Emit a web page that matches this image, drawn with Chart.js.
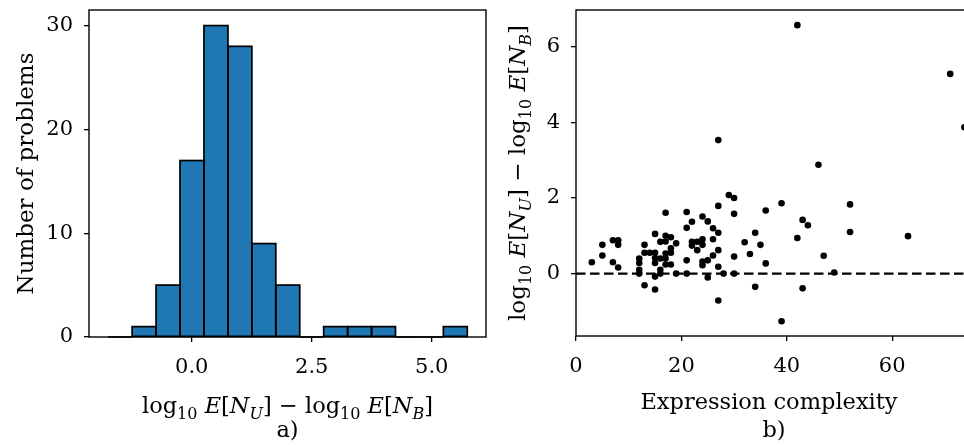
<!DOCTYPE html>
<html>
<head>
<meta charset="utf-8">
<script src="https://cdn.jsdelivr.net/npm/chart.js@4.4.1/dist/chart.umd.min.js"></script>
<style>
  html, body { margin: 0; padding: 0; background: #fff; overflow: hidden; }
  #wrap { position: relative; width: 964px; height: 445px; overflow: hidden; }
  #hist { position: absolute; left: 0; top: 0; }
  #scat { position: absolute; left: 490px; top: 0; }
</style>
</head>
<body>
<div id="wrap">
  <canvas id="hist" width="490" height="445"></canvas>
  <canvas id="scat" width="480" height="445"></canvas>
</div>
<script>
// ---- panel a) histogram of the log-ratio ----
const binEdges = [-1.740, -1.241, -0.743, -0.244, 0.255, 0.754, 1.252, 1.751, 2.250,
                  2.748, 3.247, 3.746, 4.244, 4.743, 5.242, 5.740];
const binCounts = [0, 1, 5, 17, 30, 28, 9, 5, 0, 1, 1, 1, 0, 0, 1];
const histXTicks = [0, 2.5, 5.0];
const histYTicks = [0, 10, 20, 30];

// ---- panel b) log-ratio against expression complexity ----
const complexity = [42, 71, 73.7, 27, 46, 29, 30, 39, 52, 27, 36, 17, 21, 30, 24, 43, 22, 25, 44,
  21, 26, 52, 34, 27, 15, 17, 63, 18, 42, 26, 7, 8, 24, 16, 17, 22, 23, 32, 19, 5, 8, 13, 22,
  24, 35, 18, 23, 27, 13, 14, 15, 17, 18, 33, 5, 26, 47, 30, 12, 15, 16, 17, 21, 25, 3, 7, 12,
  15, 24, 36, 17, 18, 24, 8, 27, 12, 16, 49, 12, 16, 19, 21, 28, 30, 15, 25, 13, 34, 43, 15,
  27, 39];
const logRatio = [6.57, 5.28, 3.87, 3.53, 2.88, 2.08, 2.00, 1.86, 1.83, 1.79, 1.67, 1.61, 1.63,
  1.58, 1.51, 1.42, 1.37, 1.38, 1.28, 1.21, 1.20, 1.10, 1.08, 1.08, 1.05, 1.00, 0.99, 0.96,
  0.94, 0.91, 0.88, 0.88, 0.91, 0.84, 0.85, 0.84, 0.84, 0.83, 0.80, 0.76, 0.76, 0.76, 0.74,
  0.76, 0.76, 0.67, 0.62, 0.62, 0.55, 0.55, 0.55, 0.53, 0.55, 0.52, 0.48, 0.48, 0.47, 0.45,
  0.40, 0.41, 0.40, 0.40, 0.35, 0.35, 0.30, 0.30, 0.28, 0.28, 0.32, 0.27, 0.24, 0.24, 0.22,
  0.16, 0.18, 0.10, 0.10, 0.03, 0.00, 0.00, 0.00, 0.00, 0.00, 0.00, -0.08, -0.10, -0.31,
  -0.35, -0.39, -0.42, -0.71, -1.26];
const scatXTicks = [0, 20, 40, 60];
const scatYTicks = [0, 2, 4, 6];

const FONT = 'DejaVu Serif';
const TICK_FONT = { family: FONT, size: 21 };

// axis label built from plain, italic and subscript pieces
const ratioLabel = [
  { t: 'log' }, { t: '10', sub: true }, { t: ' ' }, { t: 'E', it: true }, { t: '[' },
  { t: 'N', it: true }, { t: 'U', it: true, sub: true }, { t: ']' }, { t: ' − ' },
  { t: 'log' }, { t: '10', sub: true }, { t: ' ' }, { t: 'E', it: true }, { t: '[' },
  { t: 'N', it: true }, { t: 'B', it: true, sub: true }, { t: ']' }
];

function segFont(seg, size) {
  const s = seg.sub ? Math.round(size * 0.7) : size;
  return (seg.it ? 'italic ' : '') + s + 'px "' + FONT + '"';
}

function drawRich(ctx, segs, x, y, size, rotate) {
  ctx.save();
  ctx.translate(x, y);
  if (rotate) ctx.rotate(-Math.PI / 2);
  ctx.fillStyle = '#000';
  ctx.textBaseline = 'alphabetic';
  ctx.textAlign = 'left';
  let w = 0;
  segs.forEach(s => { ctx.font = segFont(s, size); w += ctx.measureText(s.t).width; });
  let cx = -w / 2;
  segs.forEach(s => {
    ctx.font = segFont(s, size);
    ctx.fillText(s.t, cx, s.sub ? size * 0.28 : 0);
    cx += ctx.measureText(s.t).width;
  });
  ctx.restore();
}

function drawText(ctx, text, x, y, size, rotate) {
  drawRich(ctx, [{ t: text }], x, y, size, rotate);
}

// black frame round the plotting area
const framePlugin = {
  id: 'frame',
  afterDraw(chart) {
    const { ctx, chartArea: a } = chart;
    ctx.save();
    ctx.strokeStyle = '#000';
    ctx.lineWidth = 1.4;
    ctx.strokeRect(a.left, a.top, a.right - a.left, a.bottom - a.top);
    ctx.restore();
  }
};

// dark edges round every histogram bar, centred on the bin boundaries
const barEdgePlugin = {
  id: 'barEdges',
  afterDatasetsDraw(chart) {
    const { ctx } = chart;
    const meta = chart.getDatasetMeta(0);
    ctx.save();
    ctx.strokeStyle = '#000';
    ctx.lineWidth = 1.7;
    meta.data.forEach(bar => {
      const p = bar.getProps(['x', 'y', 'base', 'width'], true);
      ctx.strokeRect(p.x - p.width / 2, p.y, p.width, p.base - p.y);
    });
    ctx.restore();
  }
};

function fixedTicks(values) {
  return scale => { scale.ticks = values.map(v => ({ value: v })); };
}

// fixed axis box sizes; tick labels may overhang the plot edges freely
function fixedSize(size) {
  return scale => {
    if (scale.isHorizontal()) scale.height = size; else scale.width = size;
    scale.paddingTop = 0; scale.paddingBottom = 0;
    scale.paddingLeft = 0; scale.paddingRight = 0;
  };
}

function axisStyle(extra) {
  return Object.assign({
    border: { display: false },
    grid: { display: true, offset: false, drawOnChartArea: false, drawTicks: true,
            tickLength: 5, color: '#000', lineWidth: 1.3 },
  }, extra);
}

// ---- histogram ----
const binCenters = binCounts.map((_, i) => (binEdges[i] + binEdges[i + 1]) / 2);

new Chart(document.getElementById('hist'), {
  type: 'bar',
  data: {
    datasets: [{
      data: binCenters.map((c, i) => ({ x: c, y: binCounts[i] })),
      backgroundColor: '#1f77b4',
      borderWidth: 0,
      barPercentage: 1,
      categoryPercentage: 1
    }]
  },
  options: {
    responsive: false,
    animation: false,
    layout: { padding: { top: 10, right: 4, left: 0, bottom: 0 } },
    plugins: { legend: { display: false }, tooltip: { enabled: false } },
    scales: {
      x: axisStyle({
        type: 'linear', min: -2.14, max: 6.13, offset: false,
        afterBuildTicks: fixedTicks(histXTicks),
        afterFit: fixedSize(108),
        ticks: { color: '#000', font: TICK_FONT, padding: 13, maxRotation: 0,
                 callback: v => v.toFixed(1) }
      }),
      y: axisStyle({
        min: 0, max: 31.5,
        afterBuildTicks: fixedTicks(histYTicks),
        afterFit: fixedSize(89),
        ticks: { color: '#000', font: TICK_FONT, padding: 11 }
      })
    }
  },
  plugins: [framePlugin, barEdgePlugin, {
    id: 'histLabels',
    afterDraw(chart) {
      const { ctx, chartArea: a } = chart;
      const cx = (a.left + a.right) / 2;
      drawText(ctx, 'Number of problems', 33, (a.top + a.bottom) / 2, 23, true);
      drawRich(ctx, ratioLabel, cx, 413, 22.5, false);
      drawText(ctx, 'a)', cx, 437, 22.5, false);
    }
  }]
});

// ---- scatter ----
new Chart(document.getElementById('scat'), {
  type: 'scatter',
  data: {
    datasets: [{
      data: complexity.map((c, i) => ({ x: c, y: logRatio[i] })),
      backgroundColor: '#000',
      borderWidth: 0,
      pointRadius: 3.3
    }, {
      type: 'line',
      data: [{ x: 0, y: 0 }, { x: 74, y: 0 }],
      borderColor: '#000',
      borderWidth: 2.3,
      borderDash: [9.5, 4.5],
      pointRadius: 0
    }]
  },
  options: {
    responsive: false,
    animation: false,
    layout: { padding: { top: 10, right: 4, left: 0, bottom: 0 } },
    plugins: { legend: { display: false }, tooltip: { enabled: false } },
    scales: {
      x: axisStyle({
        type: 'linear', min: 0, max: 74,
        afterBuildTicks: fixedTicks(scatXTicks),
        afterFit: fixedSize(109),
        ticks: { color: '#000', font: TICK_FONT, padding: 13, maxRotation: 0 }
      }),
      y: axisStyle({
        min: -1.65, max: 6.97,
        afterBuildTicks: fixedTicks(scatYTicks),
        afterFit: fixedSize(86),
        ticks: { color: '#000', font: TICK_FONT, padding: 11 }
      })
    }
  },
  plugins: [framePlugin, {
    id: 'scatLabels',
    afterDraw(chart) {
      const { ctx, chartArea: a } = chart;
      const cx = (a.left + a.right) / 2;
      drawRich(ctx, ratioLabel, 35, (a.top + a.bottom) / 2, 23, true);
      drawText(ctx, 'Expression complexity', cx - 2, 409, 22.5, false);
      drawText(ctx, 'b)', cx + 3, 437, 22.5, false);
    }
  }]
});
</script>
</body>
</html>
